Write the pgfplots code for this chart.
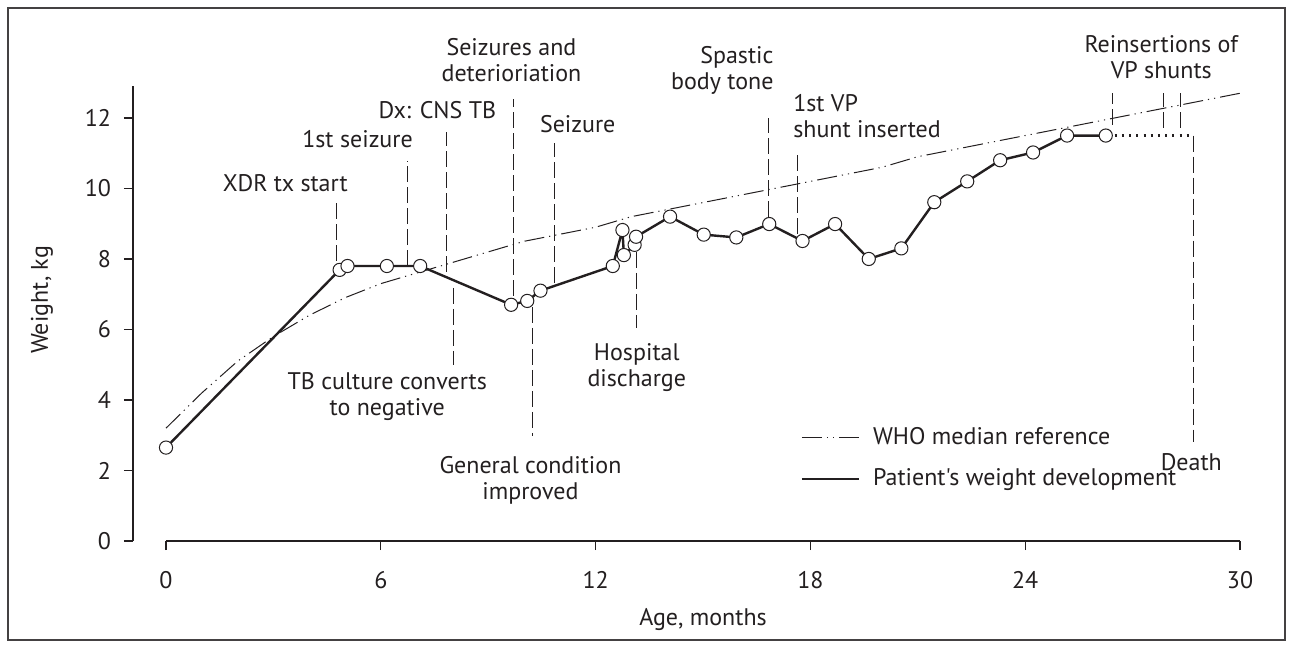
\documentclass[border=0pt]{standalone}
\usepackage{pgfplots}
\pgfplotsset{compat=1.18}
\usepackage{fontspec}
\setmainfont{PT Sans}[Ligatures=TeXOff]
\definecolor{ink}{HTML}{231F20}

\pgfplotstableread{
x y
0 3.2
1 4.2
2 5.1
3 5.8
4 6.4
5 6.9
6 7.3
7 7.6
8 7.9
9 8.2
10 8.5
11 8.7
12 8.9
13 9.2
14 9.4
15 9.6
16 9.8
17 10.0
18 10.2
19 10.4
20 10.6
21 10.9
22 11.1
23 11.3
24 11.5
25 11.7
26 11.9
27 12.1
28 12.3
29 12.5
30 12.7
}\who

\pgfplotstableread{
x y
0 2.65
4.85 7.69
5.07 7.80
6.17 7.80
7.10 7.80
9.64 6.70
10.09 6.81
10.46 7.10
12.48 7.80
12.75 8.82
12.79 8.11
13.09 8.40
13.13 8.63
14.08 9.20
15.02 8.69
15.93 8.61
16.85 8.99
17.78 8.51
18.69 8.99
19.63 8.00
20.54 8.30
21.46 9.61
22.38 10.20
23.30 10.80
24.22 11.02
25.17 11.50
26.25 11.50
}\patient

\begin{document}
\begin{tikzpicture}[font=\fontsize{12}{13}\selectfont, color=ink]
\useasboundingbox (0,0) rectangle (646.5pt,324pt);
\draw[ink!85, line width=0.6pt] (4pt,4pt) rectangle (642.5pt,320pt);
\begin{axis}[
  at={(83pt,53.5pt)}, anchor=south west,
  scale only axis, width=537pt, height=227.4pt,
  xmin=0, xmax=30, ymin=0, ymax=12.9,
  axis lines=left,
  axis line style={-, line width=0.6pt, ink},
  axis y line shift=16.5pt,
  xtick={0,6,...,30}, ytick={0,2,...,12},
  tick align=outside, major tick length=4.5pt,
  tick style={line width=0.6pt, ink},
  clip=false,
  /pgf/number format/assume math mode=true,
  ticklabel style={font=\fontsize{12}{13}\selectfont, text=ink},
  xticklabel style={yshift=-7pt},
  yticklabel style={xshift=-3pt},
  every axis y label/.style={at={(axis description cs:-0.1155,0.53)}, rotate=90, anchor=center},
  every axis x label/.style={at={(axis description cs:0.5,-0.1737)}, anchor=center},
  xlabel={Age, months},
  ylabel={Weight, kg},
  legend style={at={(axis cs:17.55,3.45)}, anchor=north west, draw=none, fill=none,
    font=\fontsize{12}{13}\selectfont, row sep=6.5pt, text=ink},
  legend cell align=left,
  legend image code/.code={\draw[#1] (0pt,0pt) -- (28.5pt,0pt); \path (33pt,0pt);},
  evt/.style={ink, line width=0.55pt, dash pattern=on 8pt off 2.5pt, forget plot},
]
\addplot[ink, line width=0.5pt, dash pattern=on 10pt off 2.5pt on 0.6pt off 2.5pt on 0.6pt off 2.5pt] table {\who};
\addlegendentry{WHO median reference}
\addplot[ink, line width=1.2pt, mark=*, mark size=3.3pt, mark options={fill=white, draw=ink, line width=0.5pt, solid}] table {\patient};
\addlegendentry{Patient's weight development}
\addplot[ink, line width=1.1pt, dash pattern=on 1pt off 2.6pt, forget plot] coordinates {(26.5,11.5) (28.69,11.5)};

\addplot[evt] coordinates {(4.75,7.95) (4.75,9.6)};
\addplot[evt] coordinates {(6.74,7.8) (6.74,10.78)};
\addplot[evt] coordinates {(7.83,7.63) (7.83,11.6)};
\addplot[evt] coordinates {(8.03,7.18) (8.03,4.99)};
\addplot[evt] coordinates {(9.70,6.95) (9.70,12.55)};
\addplot[evt] coordinates {(10.23,6.64) (10.23,2.98)};
\addplot[evt] coordinates {(10.84,7.32) (10.84,11.29)};
\addplot[evt] coordinates {(13.13,8.2) (13.13,6.04)};
\addplot[evt] coordinates {(16.84,9.2) (16.84,12.0)};
\addplot[evt] coordinates {(17.64,8.72) (17.64,11.0)};
\addplot[evt] coordinates {(26.45,11.8) (26.45,12.71)};
\addplot[evt] coordinates {(27.87,11.72) (27.87,12.71)};
\addplot[evt] coordinates {(28.34,11.72) (28.34,12.71)};
\addplot[evt] coordinates {(28.69,11.5) (28.69,2.8)};

\node at (axis cs:3.33,10.16) {XDR tx start};
\node at (axis cs:5.35,11.4) {1st seizure};
\node at (axis cs:7.58,12.23) {Dx: CNS TB};
\node[align=center] at (axis cs:6.18,4.09) {TB culture converts\\to negative};
\node[align=center] at (axis cs:9.65,13.65) {Seizures and\\deterioriation};
\node[align=center] at (axis cs:10.18,1.73) {General condition\\improved};
\node at (axis cs:11.5,11.83) {Seizure};
\node[align=center] at (axis cs:13.15,4.91) {Hospital\\discharge};
\node[align=right, anchor=east, inner sep=0pt] at (axis cs:16.98,13.36) {Spastic\\body tone};
\node[align=left, anchor=west, inner sep=0pt] at (axis cs:17.51,12.06) {1st VP\\shunt inserted};
\node[align=center] at (axis cs:27.8,13.73) {Reinsertions of\\VP shunts};
\node at (axis cs:28.64,2.24) {Death};
\end{axis}
\end{tikzpicture}
\end{document}
